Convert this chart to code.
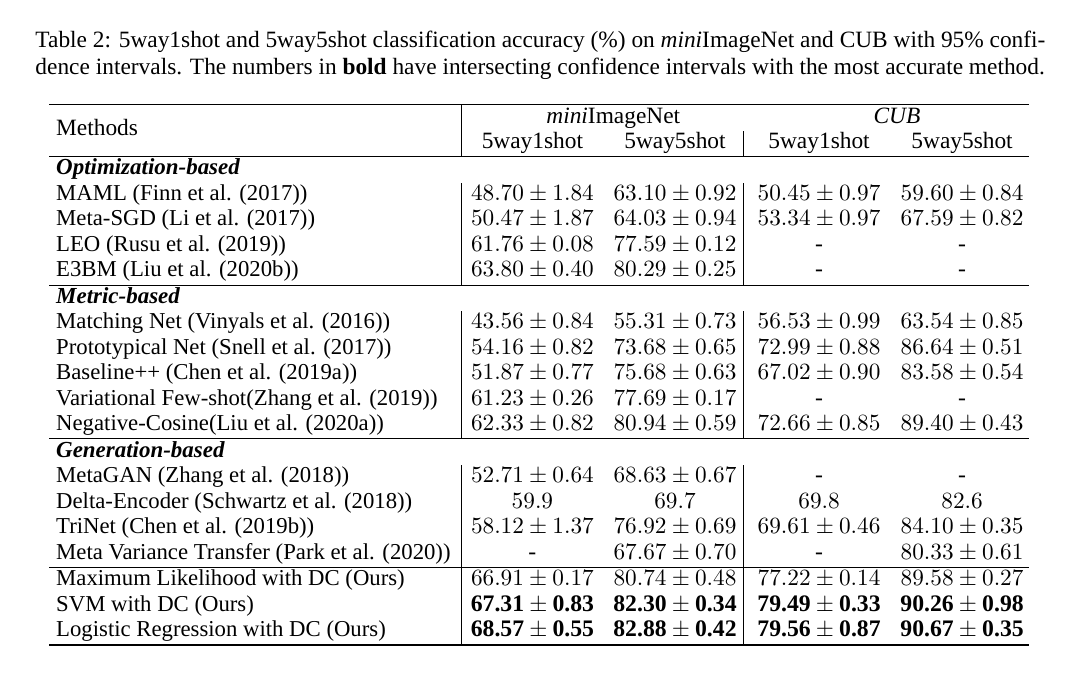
\documentclass[border=0pt]{standalone}
\usepackage{pgfplots}
\pgfplotsset{compat=1.18}
\usepackage{array}
\usepackage{fontspec}
\setmainfont{Liberation Serif}
\newcommand{\n}[2]{$#1\pm#2$}
\newcommand{\bb}[2]{$\textbf{#1}\pm\textbf{#2}$}
\newcommand{\hd}[1]{{\fontsize{11}{12}\selectfont #1}}
\newcommand{\grp}[1]{\multicolumn{5}{@{\hspace{3.3pt}}l}{\fontsize{10.8}{12}\selectfont\textbf{\textit{#1}}}}
\newcolumntype{D}{>{\fontsize{11.15}{12}\selectfont}w{c}{58.8pt}}
\begin{document}
\begin{tikzpicture}
\useasboundingbox (0,0) rectangle (508.24pt,316.24pt);
\node[anchor=base west,inner sep=0pt] at (16.5pt,294.1pt) {\parbox[t]{475.3pt}{\fontsize{11}{12.7}\selectfont
Table 2: 5way1shot and 5way5shot classification accuracy (\%) on \textit{mini}ImageNet and CUB with 95\% confi-\linebreak dence intervals. The numbers in \textbf{bold} have intersecting confidence intervals with the most accurate method.}};
\node[anchor=north,inner sep=0pt] at (253.6pt,267.7pt) {\fontsize{10.7}{12}\selectfont
\begin{tabular}{@{\hspace{3.3pt}}>{\raggedright\arraybackslash}p{190.4pt}@{}|@{\hspace{3.9pt}}D@{\hspace{8.3pt}}D@{\hspace{2.5pt}}|@{\hspace{6.1pt}}D@{\hspace{8.5pt}}D@{\hspace{1.9pt}}}
\noalign{\hrule height 0.8pt}
\raisebox{-6pt}[0pt][0pt]{\hd{Methods}} & \multicolumn{2}{c}{\hd{\textit{mini}ImageNet}} & \multicolumn{2}{c@{\hspace{1.9pt}}}{\hd{\textit{CUB}}}\\
 & \hd{5way1shot} & \hd{5way5shot} & \hd{5way1shot} & \hd{5way5shot}\\
\hline
\grp{Optimization-based}\\
MAML (Finn et al. (2017)) & \n{48.70}{1.84} & \n{63.10}{0.92} & \n{50.45}{0.97} & \n{59.60}{0.84}\\
Meta-SGD (Li et al. (2017)) & \n{50.47}{1.87} & \n{64.03}{0.94} & \n{53.34}{0.97} & \n{67.59}{0.82}\\
LEO (Rusu et al. (2019)) & \n{61.76}{0.08} & \n{77.59}{0.12} & - & -\\
E3BM (Liu et al. (2020b)) & \n{63.80}{0.40} & \n{80.29}{0.25} & - & -\\
\hline
\grp{Metric-based}\\
Matching Net (Vinyals et al. (2016)) & \n{43.56}{0.84} & \n{55.31}{0.73} & \n{56.53}{0.99} & \n{63.54}{0.85}\\
Prototypical Net (Snell et al. (2017)) & \n{54.16}{0.82} & \n{73.68}{0.65} & \n{72.99}{0.88} & \n{86.64}{0.51}\\
Baseline++ (Chen et al. (2019a)) & \n{51.87}{0.77} & \n{75.68}{0.63} & \n{67.02}{0.90} & \n{83.58}{0.54}\\
Variational Few-shot(Zhang et al. (2019)) & \n{61.23}{0.26} & \n{77.69}{0.17} & - & -\\
Negative-Cosine(Liu et al. (2020a)) & \n{62.33}{0.82} & \n{80.94}{0.59} & \n{72.66}{0.85} & \n{89.40}{0.43}\\
\hline
\grp{Generation-based}\\
MetaGAN (Zhang et al. (2018)) & \n{52.71}{0.64} & \n{68.63}{0.67} & - & -\\
Delta-Encoder (Schwartz et al. (2018)) & $59.9$ & $69.7$ & $69.8$ & $82.6$\\
TriNet (Chen et al. (2019b)) & \n{58.12}{1.37} & \n{76.92}{0.69} & \n{69.61}{0.46} & \n{84.10}{0.35}\\
Meta Variance Transfer (Park et al. (2020)) & - & \n{67.67}{0.70} & - & \n{80.33}{0.61}\\
\hline
Maximum Likelihood with DC (Ours) & \n{66.91}{0.17} & \n{80.74}{0.48} & \n{77.22}{0.14} & \n{89.58}{0.27}\\
SVM with DC (Ours) & \bb{67.31}{0.83} & \bb{82.30}{0.34} & \bb{79.49}{0.33} & \bb{90.26}{0.98}\\
Logistic Regression with DC (Ours) & \bb{68.57}{0.55} & \bb{82.88}{0.42} & \bb{79.56}{0.87} & \bb{90.67}{0.35}\\
\noalign{\hrule height 0.8pt}
\end{tabular}};
\end{tikzpicture}
\end{document}
